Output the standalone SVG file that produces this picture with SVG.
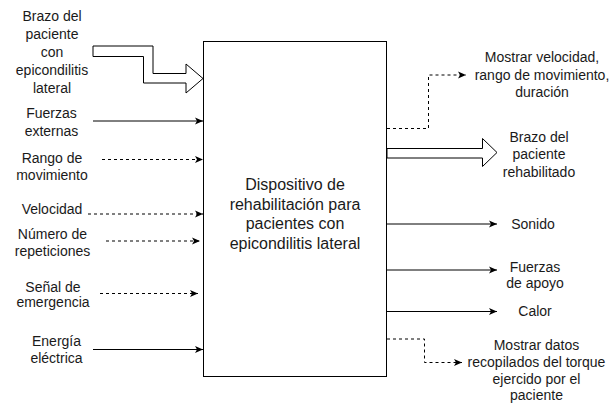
<svg xmlns="http://www.w3.org/2000/svg" width="614" height="408" viewBox="0 0 614 408">
<style>
text{font-family:"Liberation Sans",Arial,sans-serif;fill:#1a1a1a;text-anchor:middle}
.s{font-size:14px}
.b{font-size:16px}
.ln{fill:none;stroke:#000;stroke-width:1}
.d{stroke-dasharray:3 3}
.flex{fill:#fff;stroke:#000;stroke-width:1;stroke-linejoin:miter}
.box{fill:#fff;stroke:#000;stroke-width:1}
</style>
<defs>
<marker id="ah" markerUnits="userSpaceOnUse" markerWidth="10" markerHeight="10" refX="8" refY="3.5" orient="auto" viewBox="0 0 10 7">
<path d="M0,0 L8,3.5 L0,7 L2,3.5 Z" fill="#000"/>
</marker>
</defs>
<g id="connectors">
<polygon class="flex" points="93,46 153,46 153,73.5 186,73.5 186,64 203,78.5 186,93 186,83 143.5,83 143.5,56.5 93,56.5"/>
<path class="ln" d="M93,121 H203" marker-end="url(#ah)"/>
<path class="ln d" d="M102,159.5 H203" marker-end="url(#ah)"/>
<path class="ln d" d="M88,214 H203" marker-end="url(#ah)"/>
<path class="ln d" d="M106,241 H200" marker-end="url(#ah)"/>
<path class="ln d" d="M100,293.5 H198" marker-end="url(#ah)"/>
<path class="ln" d="M93,349.5 H203" marker-end="url(#ah)"/>
<path class="ln d" d="M387,128.5 H428.5 V75 H466" marker-end="url(#ah)"/>
<polygon class="flex" points="387,148.5 482.5,148.5 482.5,138.5 497,152.5 482.5,166.5 482.5,158 387,158"/>
<path class="ln" d="M387,224 H497" marker-end="url(#ah)"/>
<path class="ln" d="M387,270 H497" marker-end="url(#ah)"/>
<path class="ln" d="M387,311.5 H497" marker-end="url(#ah)"/>
<path class="ln d" d="M387,339 H424.5 V362.5 H462" marker-end="url(#ah)"/>
</g>
<g id="device">
<rect class="box" x="203.5" y="41.5" width="183" height="335"/>
<text class="b" x="295" y="190">Dispositivo de</text>
<text class="b" x="295" y="209.5">rehabilitación para</text>
<text class="b" x="295" y="229">pacientes con</text>
<text class="b" x="295" y="248.5">epicondilitis lateral</text>
</g>
<g id="in-brazo">
<text class="s" x="52" y="20.5">Brazo del</text>
<text class="s" x="52" y="38.5">paciente</text>
<text class="s" x="52" y="56.5">con</text>
<text class="s" x="52" y="74.5">epicondilitis</text>
<text class="s" x="52" y="92.5">lateral</text>
</g>
<g id="in-fuerzas">
<text class="s" x="51.5" y="118">Fuerzas</text>
<text class="s" x="51.5" y="135.5">externas</text>
</g>
<g id="in-rango">
<text class="s" x="52" y="162.5">Rango de</text>
<text class="s" x="52" y="179.5">movimiento</text>
</g>
<g id="in-velocidad">
<text class="s" x="52" y="213.5">Velocidad</text>
</g>
<g id="in-repeticiones">
<text class="s" x="52.5" y="238.5">Número de</text>
<text class="s" x="52.5" y="255.5">repeticiones</text>
</g>
<g id="in-senal">
<text class="s" x="53" y="291.5">Señal de</text>
<text class="s" x="53" y="307">emergencia</text>
</g>
<g id="in-energia">
<text class="s" x="56.5" y="346">Energía</text>
<text class="s" x="56.5" y="363">eléctrica</text>
</g>
<g id="out-mostrar">
<text class="s" x="542" y="61.5">Mostrar velocidad,</text>
<text class="s" x="542" y="79.5">rango de movimiento,</text>
<text class="s" x="542" y="97">duración</text>
</g>
<g id="out-brazo">
<text class="s" x="539" y="141.5">Brazo del</text>
<text class="s" x="539" y="159">paciente</text>
<text class="s" x="539" y="176.5">rehabilitado</text>
</g>
<g id="out-sonido">
<text class="s" x="533" y="228.5">Sonido</text>
</g>
<g id="out-apoyo">
<text class="s" x="535" y="271.5">Fuerzas</text>
<text class="s" x="535" y="287.5">de apoyo</text>
</g>
<g id="out-calor">
<text class="s" x="535" y="316">Calor</text>
</g>
<g id="out-datos">
<text class="s" x="536.5" y="349.5">Mostrar datos</text>
<text class="s" x="536.5" y="366.5">recopilados del torque</text>
<text class="s" x="536.5" y="383.5">ejercido por el</text>
<text class="s" x="536.5" y="400">paciente</text>
</g>
</svg>
